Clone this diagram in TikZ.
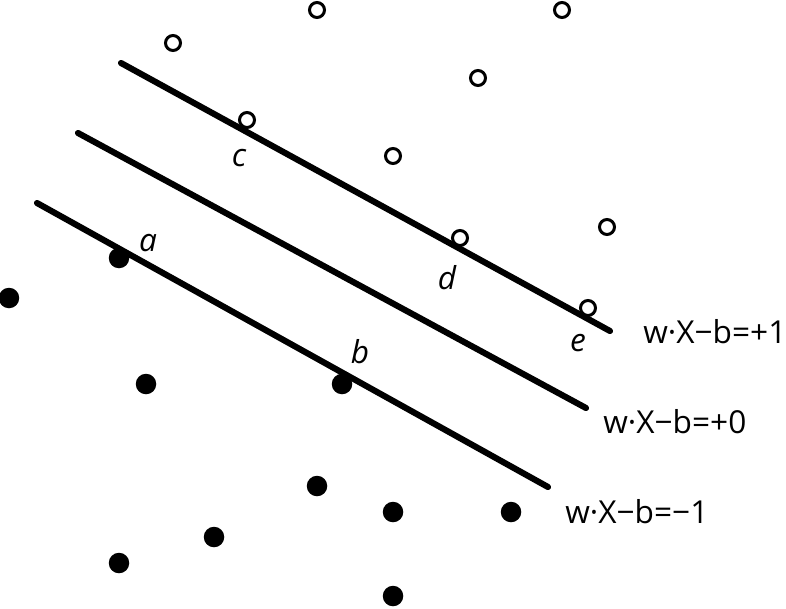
\documentclass[tikz,border=0pt]{standalone}
\usepackage{fontspec}
\setmainfont{Open Sans}

\begin{document}
\begin{tikzpicture}[x=0.02cm,y=-0.02cm]

      \useasboundingbox (0,0) rectangle (786,608);

      % positive class, open circles
      \begin{scope}[every node/.style={circle,draw,line width=1.7pt,inner sep=0pt,minimum size=0.3cm}]
        \node (p1) at (317,10)  {};
        \node (p2) at (562,10)  {};
        \node (p3) at (173,43)  {};
        \node (p4) at (478,78)  {};
        \node (p5) at (247,120) {};
        \node (p6) at (393,156) {};
        \node (p7) at (607,227) {};
        \node (p8) at (460,238) {};
        \node (p9) at (588,308) {};
      \end{scope}

      % negative class, filled dots
      \begin{scope}[every node/.style={circle,fill,inner sep=0pt,minimum size=0.41cm}]
        \node (n1)  at (119,258) {};
        \node (n2)  at (9,298)   {};
        \node (n3)  at (146,384) {};
        \node (n4)  at (342,384) {};
        \node (n5)  at (317,486) {};
        \node (n6)  at (393,512) {};
        \node (n7)  at (511,512) {};
        \node (n8)  at (214,537) {};
        \node (n9)  at (119,563) {};
        \node (n10) at (393,596) {};
      \end{scope}

      \coordinate (t1) at (121,63);
      \coordinate (t2) at (610,331);
      \coordinate (m1) at (78,133);
      \coordinate (m2) at (586,408);
      \coordinate (b1) at (37,203);
      \coordinate (b2) at (548,487);

      \begin{scope}[line width=3.5pt,line cap=round]
        \draw (t1) -- (t2);
        \draw (m1) -- (m2);
        \draw (b1) -- (b2);
      \end{scope}

      \begin{scope}[every node/.style={font=\fontsize{18}{20}\selectfont\itshape}]
        \node (a) at (148,243) {a};
        \node (b) at (360,352) {b};
        \node (c) at (239,158) {c};
        \node (d) at (447,278) {d};
        \node (e) at (578,343) {e};
      \end{scope}

      \begin{scope}[every node/.style={anchor=base west,inner sep=0pt,font=\fontsize{18}{20}\selectfont}]
        \node (top) at (643,343) {w·X−b=+1};
        \node (mid) at (603,433) {w·X−b=+0};
        \node (bot) at (565,523) {w·X−b=−1};
      \end{scope}

    \end{tikzpicture}
\end{document}
